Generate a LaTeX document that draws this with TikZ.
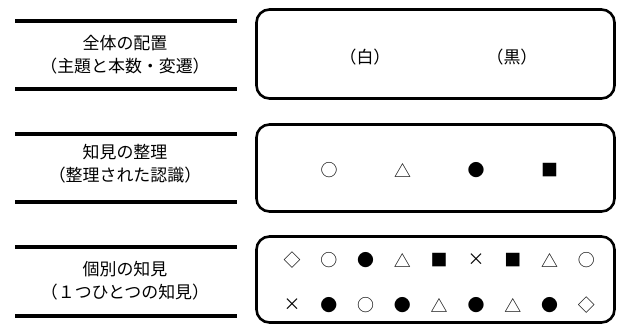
\documentclass[tikz,border=0pt]{standalone}
\usepackage{fontspec}
\newfontfamily\jpfont{Noto Sans CJK JP}

\begin{document}
\begin{tikzpicture}[x=1bp,y=-1bp,
    bar/.style={line width=3.6bp},
    panel/.style={draw,line width=2.6bp,rounded corners=13bp},
    captext/.style={font=\jpfont\fontsize{17}{23}\selectfont,align=center,inner sep=0pt},
    sym/.style={font=\jpfont\fontsize{17}{17}\selectfont,inner sep=0pt}]
        \useasboundingbox (0,0) rectangle (620,327);

        % left column
        \draw[bar] (15,21) -- (237,21);
        \draw[bar] (15,89) -- (237,89);
        \node[captext] (whole) at (125,55) {全体の配置\\（主題と本数・変遷）};

        \draw[bar] (15,134) -- (237,134);
        \draw[bar] (15,202) -- (237,202);
        \node[captext] (order) at (125,164) {知見の整理\\（整理された認識）};

        \draw[bar] (15,247) -- (237,247);
        \draw[bar] (15,316) -- (237,316);
        \node[captext] (single) at (125,280.5) {個別の知見\\（１つひとつの知見）};

        % right column
        \draw[panel] (256.5,9.5) rectangle (614.5,98.5);
        \node[captext] (white) at (365,57) {（白）};
        \node[captext] (black) at (512,57) {（黒）};

        \draw[panel] (256.5,124.5) rectangle (614.5,211.5);
        \foreach \s [count=\i] in {○,△,●,■}
            \node[sym] (kind\i) at (255.5+73.5*\i,170) {\s};

        \draw[panel] (256.5,236.5) rectangle (614.5,322.5);
        \foreach \s [count=\i from 0] in {◇,○,●,△,■,×,■,△,○}
            \node[sym] (top\i) at (292+36.8*\i,260) {\s};
        \foreach \s [count=\i from 0] in {×,●,○,●,△,●,△,●,◇}
            \node[sym] (low\i) at (292+36.8*\i,305) {\s};

    \end{tikzpicture}
\end{document}
